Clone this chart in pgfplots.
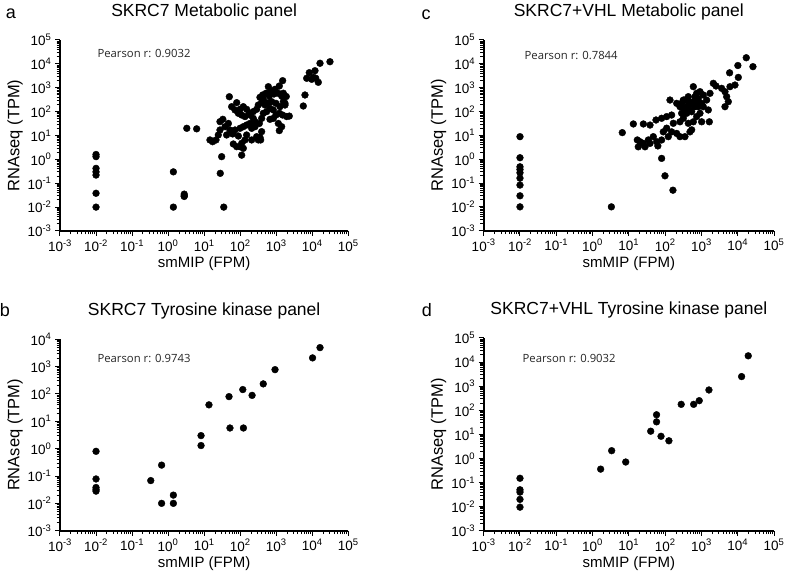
\documentclass[border=0pt]{standalone}
\usepackage{fontspec}
\setmainfont{Liberation Sans}
\newfontfamily\pearsonfont{Open Sans}
\usepackage{pgfplots}
\pgfplotsset{compat=1.18}

\newcommand\tp[1]{10\textsuperscript{#1}}

\pgfplotsset{every axis/.append style={
    scale only axis,
    axis x line*=bottom, axis y line*=left,
    axis line style={line width=1.8pt},
    tick align=outside,
    major tick length=5pt,
    minor tick length=3.5pt,
    tick style={black, line width=1pt},
    minor tick style={black, line width=0.9pt},
    minor xtick={0.002,0.003,0.004,0.005,0.006,0.007,0.008,0.009,
      0.02,0.03,0.04,0.05,0.06,0.07,0.08,0.09,0.2,0.3,0.4,0.5,0.6,0.7,0.8,0.9,
      2,3,4,5,6,7,8,9,20,30,40,50,60,70,80,90,200,300,400,500,600,700,800,900,
      2000,3000,4000,5000,6000,7000,8000,9000,20000,30000,40000,50000,60000,70000,80000,90000},
    minor ytick={0.002,0.003,0.004,0.005,0.006,0.007,0.008,0.009,
      0.02,0.03,0.04,0.05,0.06,0.07,0.08,0.09,0.2,0.3,0.4,0.5,0.6,0.7,0.8,0.9,
      2,3,4,5,6,7,8,9,20,30,40,50,60,70,80,90,200,300,400,500,600,700,800,900,
      2000,3000,4000,5000,6000,7000,8000,9000,20000,30000,40000,50000,60000,70000,80000,90000},
    tick label style={font=\fontsize{13.5}{15}\selectfont},
    xlabel style={at={(axis description cs:0.5,0)}, anchor=center, yshift=-32.5pt,
      font=\fontsize{15}{17}\selectfont},
    ylabel style={at={(axis description cs:0,0.5)}, anchor=center, yshift=45pt,
      font=\fontsize{16.5}{18}\selectfont},
    title style={at={(axis description cs:0.5,1)}, anchor=center, yshift=22pt,
      font=\fontsize{17.5}{20}\selectfont},
    clip=false}}
\tikzset{pearson/.style={anchor=west, text=black!85,
  font=\fontsize{11.3}{13}\selectfont\pearsonfont}}

\begin{document}
\begin{tikzpicture}
\path[use as bounding box] (0,0) rectangle (787pt,577pt);

% panel letters
\node[font=\fontsize{18}{20}\selectfont] at (11pt,563pt) {a};
\node[font=\fontsize{18}{20}\selectfont] at (426pt,562pt) {c};
\node[font=\fontsize{18}{20}\selectfont] at (5pt,267pt) {b};
\node[font=\fontsize{18}{20}\selectfont] at (427pt,267pt) {d};

% a
\begin{axis}[xmode=log, ymode=log, xmin=1e-3, xmax=1e5, ymin=1e-3, ymax=1e5,
  xtick={1e-3,1e-2,1e-1,1,10,100,1000,1e4,1e5},
  xticklabels={\tp{-3},\tp{-2},\tp{-1},\tp{0},\tp{1},\tp{2},\tp{3},\tp{4},\tp{5}},
  ytick={1e-3,1e-2,1e-1,1,10,100,1000,1e4,1e5},
  yticklabels={\tp{-3},\tp{-2},\tp{-1},\tp{0},\tp{1},\tp{2},\tp{3},\tp{4},\tp{5}},
  xlabel={smMIP (FPM)}, ylabel={RNAseq (TPM)},
  at={(60pt,346pt)}, anchor=south west,
  width=288.3pt, height=191pt, title={SKRC7 Metabolic panel}]
\addplot[only marks, mark=*, mark size=3.4pt, black] coordinates {
(0.01,1.6) (0.01,1.3) (0.01,0.42) (0.01,0.3) (0.01,0.22) (0.01,0.038) (0.01,0.01)
(1.4,0.3) (1.4,0.01) (2.8,0.035) (2.8,0.03) (2.8,0.028) (3.3,20) (6.2,19) (28,0.26) (35,0.01)
(1507,1980) (1219,1183) (924,859) (700,755) (604,1109) (520,584) (420,497) (354,397)
(438,327) (643,451) (867,547) (1143,584) (1415,451) (1573,261) (1750,189) (1271,161)
(985,222) (746,261) (604,237) (488,189) (394,237) (318,189) (286,125) (231,100)
(179,85) (151,125) (122,161) (99,125) (72,117) (58,161) (50,420) (80,237) (89,85)
(110,72) (136,62) (187,72) (231,52) (258,38) (187,32) (151,27.5) (122,23.4) (99,20)
(208,20) (258,23.4) (340,32) (394,52) (438,85) (542,100) (671,137) (830,117) (985,72)
(1219,85) (1507,72) (1415,23.4) (1219,16) (394,14.5) (354,8.4) (318,6.5) (208,6.5)
(136,6.5) (110,4.7) (99,3.4) (122,2.9) (80,3.4) (64.5,4.4) (47,32) (38,23.4) (33,47.6)
(27.5,17) (24.7,10.5) (21.3,6.5) (17.2,5.5) (14.5,6.5) (27.5,38) (42,10.5) (52,17)
(62,11.6) (30.6,1.3) (110,1.5) (370,6.5) (286,8.9) (151,10.5) (89,9.5) (72,17)
(671,47.6) (830,52) (1143,32) (1900,430) (1750,224) (1575,590) (1950,62) (2300,65)
(31000,12300) (16400,10600) (11900,5170) (8260,4270) (7000,2490) (9640,2260)
(14700,1690) (6280,497) (5640,172) (10700,2730) (12500,2500)
};
\node[pearson] at (axis description cs:0.118,0.927) {Pearson r: 0.9032};
\end{axis}

% c
\begin{axis}[xmode=log, ymode=log, xmin=1e-3, xmax=1e5, ymin=1e-3, ymax=1e5,
  xtick={1e-3,1e-2,1e-1,1,10,100,1000,1e4,1e5},
  xticklabels={\tp{-3},\tp{-2},\tp{-1},\tp{0},\tp{1},\tp{2},\tp{3},\tp{4},\tp{5}},
  ytick={1e-3,1e-2,1e-1,1,10,100,1000,1e4,1e5},
  yticklabels={\tp{-3},\tp{-2},\tp{-1},\tp{0},\tp{1},\tp{2},\tp{3},\tp{4},\tp{5}},
  xlabel={smMIP (FPM)}, ylabel={RNAseq (TPM)},
  at={(483.7pt,346.3pt)}, anchor=south west,
  width=290.3pt, height=190.7pt, title={SKRC7+VHL Metabolic panel}]
\addplot[only marks, mark=*, mark size=3.4pt, black] coordinates {
(0.01,8.8) (0.01,1.15) (0.01,0.48) (0.01,0.37) (0.01,0.27) (0.01,0.16) (0.01,0.082)
(0.01,0.029) (0.01,0.01) (3.3,0.01) (6.6,13)
(13.3,30) (25.1,30) (38.3,27) (56,44) (80,52) (110,61) (151,71) (168,32) (256,37)
(317,52) (435,32) (598,37) (739,61) (912,84) (1549,116) (1014,37) (1650,37) (136,303)
(208,220) (256,159) (352,136) (484,187) (598,258) (664,419) (598,1100) (739,578)
(912,679) (1127,492) (1393,303) (1722,578) (2128,1520) (2518,1175) (3606,937)
(4457,679) (4954,419) (5508,258) (4457,159) (538,17) (484,14) (352,8.8) (256,8.8)
(208,12) (151,14) (110,20) (89,14) (80,6.4) (58.4,5.4) (47.2,8.8) (34.4,6.4) (25.1,4.6)
(20.3,5.4) (17.1,6.4) (18.2,3.3) (27.9,3.3) (38.3,4.6) (80,1.08) (99,0.2) (164,0.05)
(63,3.6) (122,8.8) (285,84) (392,84) (820,159) (1014,220) (435,419) (317,136) (538,98)
(1127,159) (352,303) (435,258) (538,220) (285,220) (392,159) (664,159) (739,258)
(484,116) (317,303) (820,350)
(5980,4200) (6124,1100) (8410,1290) (10100,8500) (10400,2700) (17200,18000) (26300,7600)
};
\node[pearson] at (axis description cs:0.129,0.92) {Pearson r: 0.7844};
\end{axis}

% b
\begin{axis}[xmode=log, ymode=log, xmin=1e-3, xmax=1e5, ymin=1e-3, ymax=1e4,
  xtick={1e-3,1e-2,1e-1,1,10,100,1000,1e4,1e5},
  xticklabels={\tp{-3},\tp{-2},\tp{-1},\tp{0},\tp{1},\tp{2},\tp{3},\tp{4},\tp{5}},
  ytick={1e-3,1e-2,1e-1,1,10,100,1000,1e4},
  yticklabels={\tp{-3},\tp{-2},\tp{-1},\tp{0},\tp{1},\tp{2},\tp{3},\tp{4}},
  xlabel={smMIP (FPM)}, ylabel={RNAseq (TPM)},
  at={(60pt,46.3pt)}, anchor=south west,
  width=288.3pt, height=191.4pt, title={SKRC7 Tyrosine kinase panel}]
\addplot[only marks, mark=*, mark size=3.4pt, black] coordinates {
(0.01,0.8) (0.01,0.078) (0.01,0.038) (0.01,0.032) (0.01,0.028) (0.33,0.068) (0.66,0.25)
(0.66,0.01) (1.4,0.02) (1.4,0.01) (8.2,3.0) (8.2,1.3) (13.6,40) (49,80) (52,5.7)
(118,145) (123,5.7) (214,89) (437,234) (926,776) (10200,2090) (16400,4960)
};
\node[pearson] at (axis description cs:0.118,0.9) {Pearson r: 0.9743};
\end{axis}

% d
\begin{axis}[xmode=log, ymode=log, xmin=1e-3, xmax=1e5, ymin=1e-3, ymax=1e5,
  xtick={1e-3,1e-2,1e-1,1,10,100,1000,1e4,1e5},
  xticklabels={\tp{-3},\tp{-2},\tp{-1},\tp{0},\tp{1},\tp{2},\tp{3},\tp{4},\tp{5}},
  ytick={1e-3,1e-2,1e-1,1,10,100,1000,1e4,1e5},
  yticklabels={\tp{-3},\tp{-2},\tp{-1},\tp{0},\tp{1},\tp{2},\tp{3},\tp{4},\tp{5}},
  xlabel={smMIP (FPM)}, ylabel={RNAseq (TPM)},
  at={(483.7pt,46.3pt)}, anchor=south west,
  width=290.3pt, height=192.7pt, title={SKRC7+VHL Tyrosine kinase panel}]
\addplot[only marks, mark=*, mark size=3.4pt, black] coordinates {
(0.01,0.15) (0.01,0.05) (0.01,0.04) (0.01,0.02) (0.01,0.0095) (1.67,0.36) (3.36,2.1)
(8.2,0.71) (40,13.5) (58,65) (58,33) (77,8.3) (127,5.4) (277,176) (610,176) (870,250)
(1610,695) (12800,2500) (19500,18200)
};
\node[pearson] at (axis description cs:0.122,0.895) {Pearson r: 0.9032};
\end{axis}
\end{tikzpicture}
\end{document}
